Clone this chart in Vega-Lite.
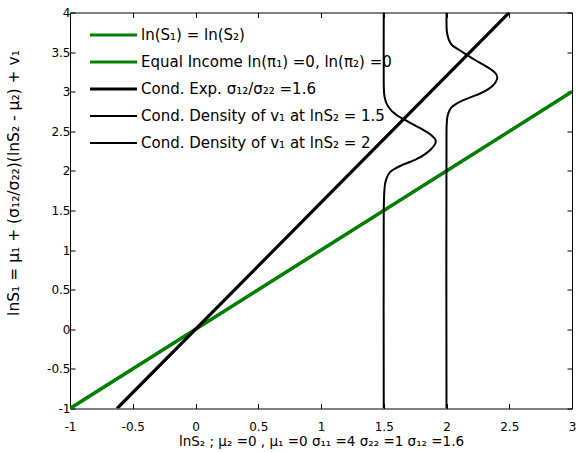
{
  "$schema": "https://vega.github.io/schema/vega-lite/v6.json",
  "width": 502,
  "height": 396,
  "autosize": {"type": "none"},
  "padding": {"left": 70, "top": 12.5, "right": 4, "bottom": 43.5},
  "background": "white",
  "config": {
    "locale": {"number": {"decimal": ".", "thousands": ",", "grouping": [3], "currency": ["$", ""], "minus": "-"}},
    "view": {"stroke": null},
    "font": "DejaVu Sans",
    "axis": {
      "grid": false,
      "format": "~g",
      "labelFlush": false,
      "domainColor": "#000000",
      "domainWidth": 1,
      "tickColor": "#000000",
      "tickWidth": 1,
      "tickSize": -5,
      "labelColor": "#000000",
      "labelFont": "DejaVu Sans",
      "labelFontSize": 12,
      "titleColor": "#000000",
      "titleFont": "DejaVu Sans",
      "titleFontWeight": "normal"
    },
    "legend": {
      "orient": "none",
      "legendX": 18,
      "legendY": 9.2,
      "symbolType": "stroke",
      "symbolSize": 2209,
      "clipHeight": 26.6,
      "labelFont": "DejaVu Sans",
      "labelFontSize": 15,
      "labelColor": "#000000",
      "labelOffset": 2,
      "rowPadding": 0,
      "padding": 0,
      "labelLimit": 400
    }
  },
  "datasets": {
    "lines": [
      {"series": "ln(S₁) = ln(S₂)", "x": -1, "y": -1},
      {"series": "ln(S₁) = ln(S₂)", "x": 3, "y": 3},
      {"series": "Equal Income ln(π₁) =0, ln(π₂) =0", "x": -1, "y": -1},
      {"series": "Equal Income ln(π₁) =0, ln(π₂) =0", "x": 3, "y": 3},
      {"series": "Cond. Exp. σ₁₂/σ₂₂ =1.6", "x": -0.625, "y": -1},
      {"series": "Cond. Exp. σ₁₂/σ₂₂ =1.6", "x": 2.5, "y": 4}
    ],
    "densities": [
      {"series": "Cond. Density of  v₁ at lnS₂ = 1.5", "x": 1.5, "y": -1},
      {"series": "Cond. Density of  v₁ at lnS₂ = 1.5", "x": 1.5, "y": 1.5},
      {"series": "Cond. Density of  v₁ at lnS₂ = 1.5", "x": 1.502, "y": 1.65},
      {"series": "Cond. Density of  v₁ at lnS₂ = 1.5", "x": 1.505, "y": 1.75},
      {"series": "Cond. Density of  v₁ at lnS₂ = 1.5", "x": 1.512, "y": 1.85},
      {"series": "Cond. Density of  v₁ at lnS₂ = 1.5", "x": 1.526, "y": 1.92},
      {"series": "Cond. Density of  v₁ at lnS₂ = 1.5", "x": 1.552, "y": 1.987},
      {"series": "Cond. Density of  v₁ at lnS₂ = 1.5", "x": 1.59, "y": 2.03},
      {"series": "Cond. Density of  v₁ at lnS₂ = 1.5", "x": 1.645, "y": 2.072},
      {"series": "Cond. Density of  v₁ at lnS₂ = 1.5", "x": 1.712, "y": 2.115},
      {"series": "Cond. Density of  v₁ at lnS₂ = 1.5", "x": 1.772, "y": 2.157},
      {"series": "Cond. Density of  v₁ at lnS₂ = 1.5", "x": 1.818, "y": 2.2},
      {"series": "Cond. Density of  v₁ at lnS₂ = 1.5", "x": 1.853, "y": 2.24},
      {"series": "Cond. Density of  v₁ at lnS₂ = 1.5", "x": 1.88, "y": 2.28},
      {"series": "Cond. Density of  v₁ at lnS₂ = 1.5", "x": 1.902, "y": 2.32},
      {"series": "Cond. Density of  v₁ at lnS₂ = 1.5", "x": 1.914, "y": 2.36},
      {"series": "Cond. Density of  v₁ at lnS₂ = 1.5", "x": 1.91, "y": 2.4},
      {"series": "Cond. Density of  v₁ at lnS₂ = 1.5", "x": 1.88, "y": 2.45},
      {"series": "Cond. Density of  v₁ at lnS₂ = 1.5", "x": 1.834, "y": 2.5},
      {"series": "Cond. Density of  v₁ at lnS₂ = 1.5", "x": 1.778, "y": 2.55},
      {"series": "Cond. Density of  v₁ at lnS₂ = 1.5", "x": 1.718, "y": 2.6},
      {"series": "Cond. Density of  v₁ at lnS₂ = 1.5", "x": 1.662, "y": 2.65},
      {"series": "Cond. Density of  v₁ at lnS₂ = 1.5", "x": 1.608, "y": 2.7},
      {"series": "Cond. Density of  v₁ at lnS₂ = 1.5", "x": 1.568, "y": 2.75},
      {"series": "Cond. Density of  v₁ at lnS₂ = 1.5", "x": 1.541, "y": 2.8},
      {"series": "Cond. Density of  v₁ at lnS₂ = 1.5", "x": 1.523, "y": 2.85},
      {"series": "Cond. Density of  v₁ at lnS₂ = 1.5", "x": 1.512, "y": 2.9},
      {"series": "Cond. Density of  v₁ at lnS₂ = 1.5", "x": 1.505, "y": 2.95},
      {"series": "Cond. Density of  v₁ at lnS₂ = 1.5", "x": 1.502, "y": 3.0},
      {"series": "Cond. Density of  v₁ at lnS₂ = 1.5", "x": 1.5, "y": 3.1},
      {"series": "Cond. Density of  v₁ at lnS₂ = 1.5", "x": 1.5, "y": 4.0},
      {"series": "Cond. Density of  v₁ at lnS₂ = 2", "x": 2.0, "y": -1},
      {"series": "Cond. Density of  v₁ at lnS₂ = 2", "x": 2.0, "y": 2.5},
      {"series": "Cond. Density of  v₁ at lnS₂ = 2", "x": 2.002, "y": 2.6},
      {"series": "Cond. Density of  v₁ at lnS₂ = 2", "x": 2.007, "y": 2.682},
      {"series": "Cond. Density of  v₁ at lnS₂ = 2", "x": 2.02, "y": 2.75},
      {"series": "Cond. Density of  v₁ at lnS₂ = 2", "x": 2.043, "y": 2.808},
      {"series": "Cond. Density of  v₁ at lnS₂ = 2", "x": 2.08, "y": 2.85},
      {"series": "Cond. Density of  v₁ at lnS₂ = 2", "x": 2.135, "y": 2.893},
      {"series": "Cond. Density of  v₁ at lnS₂ = 2", "x": 2.2, "y": 2.935},
      {"series": "Cond. Density of  v₁ at lnS₂ = 2", "x": 2.268, "y": 2.977},
      {"series": "Cond. Density of  v₁ at lnS₂ = 2", "x": 2.33, "y": 3.03},
      {"series": "Cond. Density of  v₁ at lnS₂ = 2", "x": 2.372, "y": 3.082},
      {"series": "Cond. Density of  v₁ at lnS₂ = 2", "x": 2.395, "y": 3.13},
      {"series": "Cond. Density of  v₁ at lnS₂ = 2", "x": 2.405, "y": 3.18},
      {"series": "Cond. Density of  v₁ at lnS₂ = 2", "x": 2.392, "y": 3.23},
      {"series": "Cond. Density of  v₁ at lnS₂ = 2", "x": 2.355, "y": 3.28},
      {"series": "Cond. Density of  v₁ at lnS₂ = 2", "x": 2.298, "y": 3.335},
      {"series": "Cond. Density of  v₁ at lnS₂ = 2", "x": 2.228, "y": 3.4},
      {"series": "Cond. Density of  v₁ at lnS₂ = 2", "x": 2.158, "y": 3.47},
      {"series": "Cond. Density of  v₁ at lnS₂ = 2", "x": 2.098, "y": 3.53},
      {"series": "Cond. Density of  v₁ at lnS₂ = 2", "x": 2.045, "y": 3.587},
      {"series": "Cond. Density of  v₁ at lnS₂ = 2", "x": 2.02, "y": 3.65},
      {"series": "Cond. Density of  v₁ at lnS₂ = 2", "x": 2.01, "y": 3.7},
      {"series": "Cond. Density of  v₁ at lnS₂ = 2", "x": 2.004, "y": 3.75},
      {"series": "Cond. Density of  v₁ at lnS₂ = 2", "x": 2.001, "y": 3.8},
      {"series": "Cond. Density of  v₁ at lnS₂ = 2", "x": 2.0, "y": 3.9},
      {"series": "Cond. Density of  v₁ at lnS₂ = 2", "x": 2.0, "y": 4.0}
    ]
  },
  "layer": [
    {
      "data": {"name": "lines"},
      "mark": {"type": "line", "clip": true},
      "encoding": {
        "x": {
          "field": "x", "type": "quantitative",
          "scale": {"domain": [-1, 3], "nice": false, "zero": false},
          "axis": {
            "orient": "bottom",
            "values": [-1, -0.5, 0, 0.5, 1, 1.5, 2, 2.5, 3],
            "labelPadding": 17.5,
            "title": "lnS₂ ; μ₂ =0 ,  μ₁ =0  σ₁₁ =4  σ₂₂ =1  σ₁₂ =1.6",
            "titleFontSize": 13.5,
            "titlePadding": 2
          }
        },
        "y": {
          "field": "y", "type": "quantitative",
          "scale": {"domain": [-1, 4], "nice": false, "zero": false},
          "axis": {
            "orient": "left",
            "values": [-1, -0.5, 0, 0.5, 1, 1.5, 2, 2.5, 3, 3.5, 4],
            "labelPadding": 5,
            "title": "lnS₁ = μ₁ + (σ₁₂/σ₂₂)(lnS₂ - μ₂) + v₁",
            "titleFontSize": 15.5,
            "titleX": -49,
            "titleY": 170
          }
        },
        "color": {
          "field": "series", "type": "nominal",
          "scale": {
            "domain": ["ln(S₁) = ln(S₂)", "Equal Income ln(π₁) =0, ln(π₂) =0", "Cond. Exp. σ₁₂/σ₂₂ =1.6", "Cond. Density of  v₁ at lnS₂ = 1.5", "Cond. Density of  v₁ at lnS₂ = 2"],
            "range": ["#008000", "#008000", "#000000", "#000000", "#000000"]
          },
          "legend": {"title": null}
        },
        "strokeWidth": {
          "field": "series", "type": "nominal",
          "scale": {
            "type": "ordinal",
            "domain": ["ln(S₁) = ln(S₂)", "Equal Income ln(π₁) =0, ln(π₂) =0", "Cond. Exp. σ₁₂/σ₂₂ =1.6", "Cond. Density of  v₁ at lnS₂ = 1.5", "Cond. Density of  v₁ at lnS₂ = 2"],
            "range": [3.2, 3.2, 3.2, 2, 2]
          },
          "legend": {"title": null}
        },
        "order": {"field": "y", "type": "quantitative"}
      }
    },
    {
      "data": {"name": "densities"},
      "mark": {"type": "line", "clip": true, "interpolate": "catmull-rom"},
      "encoding": {
        "x": {
          "field": "x", "type": "quantitative",
          "scale": {"domain": [-1, 3], "nice": false, "zero": false},
          "axis": {"orient": "top", "values": [-1, -0.5, 0, 0.5, 1, 1.5, 2, 2.5, 3], "labels": false, "title": null}
        },
        "y": {
          "field": "y", "type": "quantitative",
          "scale": {"domain": [-1, 4], "nice": false, "zero": false},
          "axis": {"orient": "right", "values": [-1, -0.5, 0, 0.5, 1, 1.5, 2, 2.5, 3, 3.5, 4], "labels": false, "title": null}
        },
        "color": {
          "field": "series", "type": "nominal",
          "scale": {
            "domain": ["ln(S₁) = ln(S₂)", "Equal Income ln(π₁) =0, ln(π₂) =0", "Cond. Exp. σ₁₂/σ₂₂ =1.6", "Cond. Density of  v₁ at lnS₂ = 1.5", "Cond. Density of  v₁ at lnS₂ = 2"],
            "range": ["#008000", "#008000", "#000000", "#000000", "#000000"]
          },
          "legend": {"title": null}
        },
        "strokeWidth": {
          "field": "series", "type": "nominal",
          "scale": {
            "type": "ordinal",
            "domain": ["ln(S₁) = ln(S₂)", "Equal Income ln(π₁) =0, ln(π₂) =0", "Cond. Exp. σ₁₂/σ₂₂ =1.6", "Cond. Density of  v₁ at lnS₂ = 1.5", "Cond. Density of  v₁ at lnS₂ = 2"],
            "range": [3.2, 3.2, 3.2, 2, 2]
          },
          "legend": {"title": null}
        },
        "order": {"field": "y", "type": "quantitative"}
      }
    }
  ],
  "resolve": {"axis": {"x": "independent", "y": "independent"}}
}
